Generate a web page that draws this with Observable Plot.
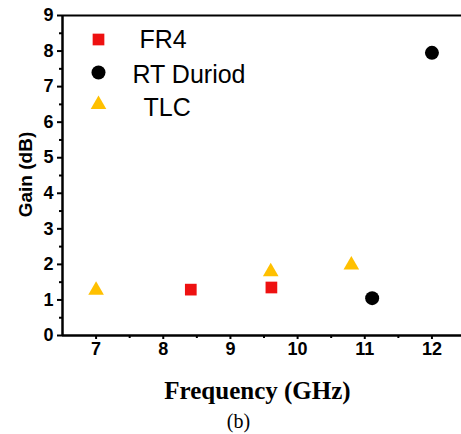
<!DOCTYPE html>
<html>
<head>
<meta charset="utf-8">
<script src="https://cdn.jsdelivr.net/npm/d3@7"></script>
<script src="https://cdn.jsdelivr.net/npm/@observablehq/plot@0.6"></script>
<style>
  html, body { margin: 0; padding: 0; background: #fff; }
</style>
</head>
<body>
<div id="chart"></div>
<script>
// ---- data ----
const seriesNames = ["FR4", "RT Duriod", "TLC"];
const seriesColors = ["#ee1111", "#000000", "#ffc000"];
const seriesSymbols = ["square", "circle", "triangle"];

const freqFR4 = [8.41, 9.61];
const gainFR4 = [1.29, 1.35];
const freqRT = [11.11, 12.0];
const gainRT = [1.05, 7.95];
const freqTLC = [7.0, 9.6, 10.8];
const gainTLC = [1.27, 1.79, 1.98];

const xTicks = [7, 8, 9, 10, 11, 12];
const xMinorTicks = [7.5, 8.5, 9.5, 10.5, 11.5];
const yTicks = [0, 1, 2, 3, 4, 5, 6, 7, 8, 9];
const yMinorTicks = [0.5, 1.5, 2.5, 3.5, 4.5, 5.5, 6.5, 7.5, 8.5];

const xLabel = "Frequency (GHz)";
const yLabel = "Gain (dB)";
const caption = "(b)";

const toRows = (xs, ys, name) => xs.map((x, i) => ({freq: x, gain: ys[i], series: name}));
const rowsFR4 = toRows(freqFR4, gainFR4, seriesNames[0]);
const rowsRT = toRows(freqRT, gainRT, seriesNames[1]);
const rowsTLC = toRows(freqTLC, gainTLC, seriesNames[2]);

const sans = "'Liberation Sans', Arial, sans-serif";
const serif = "'Liberation Serif', 'Times New Roman', serif";

const symR = [6.6, 7, 5.8];

const legendMarks = [];
const legendDy = [24, 57, 89];
const legendTextDx = [77, 70, 81];
const legendTextDy = [32, 67, 100];
seriesNames.forEach((name, i) => {
  legendMarks.push(Plot.dot([name], {
    frameAnchor: "top-left", dx: 36, dy: legendDy[i],
    symbol: () => seriesSymbols[i], r: symR[i], fill: seriesColors[i], stroke: "none"
  }));
  legendMarks.push(Plot.text([name], {
    frameAnchor: "top-left", dx: legendTextDx[i], dy: legendTextDy[i],
    text: d => d, textAnchor: "start", lineAnchor: "bottom",
    fontSize: 25, fontFamily: sans, fill: "#000"
  }));
});

const chart = Plot.plot({
  width: 461,
  height: 434,
  marginLeft: 62,
  marginRight: 0,
  marginTop: 15,
  marginBottom: 99,
  style: {fontFamily: sans, background: "#fff", overflow: "visible"},
  x: {domain: [6.5, 12.44], label: null},
  y: {domain: [0, 9], label: null},
  marks: [
    Plot.axisY({ticks: yTicks, tickFormat: d3.format("d"), tickSize: 5, tickPadding: 4, strokeWidth: 2, fontSize: 18, fontWeight: "bold", fontFamily: sans, fill: "#000", label: null}),
    Plot.axisY({ticks: yMinorTicks, tickSize: 3, strokeWidth: 2, tickFormat: () => "", label: null}),
    Plot.axisX({ticks: xTicks, tickFormat: d3.format("d"), tickSize: 4, tickPadding: 3, strokeWidth: 2, fontSize: 18, fontWeight: "bold", fontFamily: sans, fill: "#000", label: null}),
    Plot.axisX({ticks: xMinorTicks, tickSize: 3, strokeWidth: 2, tickFormat: () => "", label: null}),
    Plot.ruleY([9], {stroke: "#000", strokeWidth: 2}),
    Plot.ruleY([0], {stroke: "#000", strokeWidth: 2.5}),
    Plot.ruleX([6.5], {stroke: "#000", strokeWidth: 2.5}),
    Plot.dot(rowsFR4, {x: "freq", y: "gain", symbol: () => "square", r: symR[0], fill: seriesColors[0], stroke: "none"}),
    Plot.dot(rowsRT, {x: "freq", y: "gain", symbol: () => "circle", r: symR[1], fill: seriesColors[1], stroke: "none"}),
    Plot.dot(rowsTLC, {x: "freq", y: "gain", symbol: () => "triangle", r: symR[2], fill: seriesColors[2], stroke: "none"}),
    ...legendMarks,
    Plot.text([yLabel], {frameAnchor: "left", dx: -37, dy: -1, rotate: -90, text: d => d,
      fontSize: 19, fontWeight: "bold", fontFamily: sans, fill: "#000", textAnchor: "middle", lineAnchor: "middle"}),
    Plot.text([xLabel], {frameAnchor: "bottom", dx: -4.5, dy: 63, text: d => d,
      fontSize: 25, fontWeight: "bold", fontFamily: serif, fill: "#000", textAnchor: "middle", lineAnchor: "bottom"}),
    Plot.text([caption], {frameAnchor: "bottom", dx: -23.5, dy: 92, text: d => d,
      fontSize: 20, fontFamily: serif, fill: "#000", textAnchor: "middle", lineAnchor: "bottom"})
  ]
});
document.getElementById("chart").appendChild(chart);
</script>
</body>
</html>
